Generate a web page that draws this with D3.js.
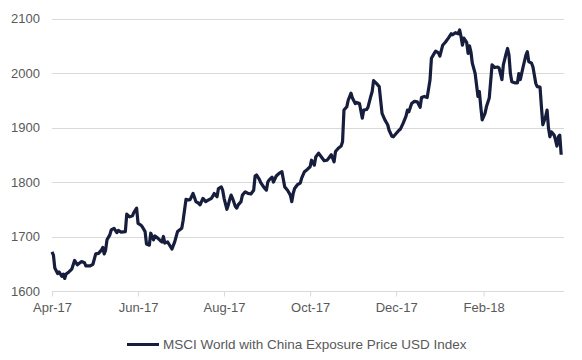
<!DOCTYPE html>
<html>
<head>
<meta charset="utf-8">
<script src="https://cdn.jsdelivr.net/npm/d3@7"></script>
<style>
  html, body { margin: 0; padding: 0; background: #fff; }
  svg { display: block; font-family: "Liberation Sans", Arial, sans-serif; }
</style>
</head>
<body>
<svg id="chart" width="582" height="360"></svg>
<script>
const seriesName = "MSCI World with China Exposure Price USD Index";
const yTicks = [1600, 1700, 1800, 1900, 2000, 2100];
const xTickLabels = ["Apr-17", "Jun-17", "Aug-17", "Oct-17", "Dec-17", "Feb-18"];
const xTickDates = ["2017-04-01", "2017-06-01", "2017-08-01", "2017-10-01", "2017-12-01", "2018-02-01"];
const xDomain = ["2017-04-01", "2018-03-30"];

const dates = [
"2017-04-01","2017-04-02","2017-04-03","2017-04-05","2017-04-06","2017-04-08","2017-04-09","2017-04-10","2017-04-11","2017-04-13",
"2017-04-15","2017-04-17","2017-04-19","2017-04-22","2017-04-24","2017-04-25","2017-04-28","2017-04-30","2017-05-02","2017-05-04",
"2017-05-06","2017-05-07","2017-05-08","2017-05-09","2017-05-10","2017-05-12","2017-05-13","2017-05-15","2017-05-17","2017-05-18",
"2017-05-20","2017-05-23","2017-05-24","2017-05-26","2017-05-28","2017-05-29","2017-05-31","2017-06-01","2017-06-03","2017-06-04",
"2017-06-06","2017-06-07","2017-06-09","2017-06-10","2017-06-12","2017-06-13","2017-06-15","2017-06-17","2017-06-18","2017-06-19",
"2017-06-20","2017-06-22","2017-06-25","2017-06-27","2017-06-29","2017-07-02","2017-07-03","2017-07-04","2017-07-05","2017-07-07",
"2017-07-08","2017-07-10","2017-07-11","2017-07-12","2017-07-14","2017-07-15","2017-07-17","2017-07-19","2017-07-21","2017-07-23",
"2017-07-24","2017-07-25","2017-07-27","2017-07-28","2017-07-30","2017-07-31","2017-08-01","2017-08-03","2017-08-04","2017-08-05",
"2017-08-06","2017-08-07","2017-08-09","2017-08-10","2017-08-11","2017-08-13","2017-08-14","2017-08-16","2017-08-18","2017-08-20",
"2017-08-22","2017-08-23","2017-08-24","2017-08-26","2017-08-27","2017-08-29","2017-08-31","2017-09-01","2017-09-02","2017-09-04",
"2017-09-05","2017-09-07","2017-09-09","2017-09-11","2017-09-12","2017-09-13","2017-09-15","2017-09-17","2017-09-18","2017-09-19",
"2017-09-20","2017-09-22","2017-09-24","2017-09-25","2017-09-27","2017-09-29","2017-10-01","2017-10-02","2017-10-04","2017-10-05",
"2017-10-07","2017-10-09","2017-10-11","2017-10-13","2017-10-14","2017-10-16","2017-10-18","2017-10-19","2017-10-21","2017-10-23",
"2017-10-24","2017-10-25","2017-10-27","2017-10-28","2017-10-30","2017-10-31","2017-11-02","2017-11-03","2017-11-05","2017-11-07",
"2017-11-08","2017-11-10","2017-11-11","2017-11-13","2017-11-14","2017-11-15","2017-11-17","2017-11-19","2017-11-20","2017-11-21",
"2017-11-23","2017-11-25","2017-11-26","2017-11-28","2017-11-29","2017-12-01","2017-12-03","2017-12-04","2017-12-06","2017-12-08",
"2017-12-09","2017-12-10","2017-12-12","2017-12-14","2017-12-16","2017-12-18","2017-12-19","2017-12-21","2017-12-23","2017-12-25",
"2017-12-26","2017-12-28","2017-12-29","2017-12-31","2018-01-01","2018-01-03","2018-01-05","2018-01-07","2018-01-09","2018-01-10",
"2018-01-12","2018-01-14","2018-01-15","2018-01-16","2018-01-17","2018-01-18","2018-01-20","2018-01-21","2018-01-22","2018-01-23",
"2018-01-24","2018-01-26","2018-01-27","2018-01-28","2018-01-29","2018-01-30","2018-01-31","2018-02-02","2018-02-03","2018-02-05",
"2018-02-07","2018-02-09","2018-02-11","2018-02-12","2018-02-14","2018-02-15","2018-02-17","2018-02-18","2018-02-19","2018-02-20",
"2018-02-21","2018-02-23","2018-02-25","2018-02-26","2018-02-27","2018-03-01","2018-03-03","2018-03-04","2018-03-05","2018-03-07",
"2018-03-08","2018-03-09","2018-03-10","2018-03-11","2018-03-13","2018-03-14","2018-03-15","2018-03-17","2018-03-18","2018-03-19",
"2018-03-20","2018-03-21","2018-03-23","2018-03-24","2018-03-25","2018-03-26","2018-03-27","2018-03-28"
];

const values = [
1672,1666,1642,1632,1635,1627,1631,1623,1631,1635,
1640,1656,1648,1654,1652,1646,1646,1649,1668,1669,
1675,1680,1668,1675,1694,1703,1712,1715,1707,1711,
1708,1709,1741,1736,1738,1744,1752,1724,1721,1718,
1709,1686,1684,1706,1694,1701,1697,1692,1690,1700,
1688,1690,1677,1690,1709,1715,1730,1749,1768,1767,
1768,1779,1772,1764,1761,1758,1770,1764,1767,1770,
1774,1779,1773,1788,1791,1785,1770,1750,1758,1768,
1776,1770,1755,1752,1758,1764,1776,1782,1779,1778,
1785,1811,1813,1805,1799,1791,1785,1800,1804,1809,
1800,1811,1816,1819,1805,1791,1785,1776,1764,1779,
1788,1795,1798,1807,1819,1823,1828,1840,1831,1846,
1853,1846,1839,1840,1843,1850,1837,1856,1862,1866,
1874,1932,1938,1950,1963,1954,1944,1946,1944,1917,
1932,1933,1937,1957,1966,1986,1981,1975,1950,1926,
1914,1905,1895,1884,1883,1889,1895,1897,1908,1921,
1932,1929,1944,1948,1947,1937,1955,1957,1955,1987,
2027,2036,2040,2037,2031,2051,2057,2064,2072,2070,
2074,2072,2079,2067,2051,2064,2056,2036,2050,2039,
2018,1999,1978,1957,1966,1938,1914,1926,1938,1954,
2015,2010,2011,2009,1988,2015,2036,2045,2033,1999,
1984,1982,1982,1999,1988,2011,2033,2039,2021,2018,
2011,1996,1981,1975,1974,1938,1905,1920,1932,1899,
1883,1892,1886,1877,1866,1883,1886,1850
];

const parse = d3.timeParse("%Y-%m-%d");
const data = dates.map((d, i) => ({ date: parse(d), value: values[i] }));

const svg = d3.select("#chart");
const margin = { left: 52, right: 18, top: 18.5, bottom: 69 };
const W = 582, H = 360;

const x = d3.scaleTime()
  .domain(xDomain.map(parse))
  .range([margin.left, W - margin.right]);
const y = d3.scaleLinear()
  .domain([1600, 2100])
  .range([H - margin.bottom, margin.top]);

const textColor = "#595959";
const gridColor = "#d9d9d9";

// Gridlines (excluding baseline)
svg.append("g")
  .selectAll("line")
  .data(yTicks.slice(1))
  .join("line")
  .attr("x1", margin.left).attr("x2", W - margin.right)
  .attr("y1", d => Math.round(y(d)) + 0.5).attr("y2", d => Math.round(y(d)) + 0.5)
  .attr("stroke", gridColor).attr("stroke-width", 1);

// Y axis labels
const yAxis = d3.axisLeft(y).tickValues(yTicks).tickSize(0).tickPadding(0).tickFormat(d3.format("d"));
const gy = svg.append("g").attr("transform", `translate(${margin.left - 12},0)`).call(yAxis);
gy.select(".domain").remove();
gy.selectAll("text")
  .attr("fill", textColor)
  .style("font-size", "13px")
  .style("font-family", "'Liberation Sans', Arial, sans-serif");

// X axis
const xAxis = d3.axisBottom(x)
  .tickValues(xTickDates.map(parse))
  .tickSize(5)
  .tickPadding(6)
  .tickFormat((d, i) => xTickLabels[i]);
const gx = svg.append("g")
  .attr("transform", `translate(0,${Math.round(y(1600)) + 0.5})`)
  .call(xAxis);
gx.select(".domain").attr("stroke", gridColor).attr("d", `M${margin.left},0H${W - margin.right}`);
gx.selectAll(".tick line").attr("stroke", gridColor);
gx.selectAll("text")
  .attr("fill", textColor)
  .style("font-size", "13px")
  .style("font-family", "'Liberation Sans', Arial, sans-serif");

// Line
const lineColor = "#171d3c";
const line = d3.line()
  .x(d => x(d.date))
  .y(d => y(d.value));
svg.append("path")
  .datum(data)
  .attr("fill", "none")
  .attr("stroke", lineColor)
  .attr("stroke-width", 3.2)
  .attr("stroke-linejoin", "round")
  .attr("stroke-linecap", "butt")
  .attr("d", line);

// Legend
const lg = svg.append("g");
lg.append("line")
  .attr("x1", 127).attr("x2", 159)
  .attr("y1", 344.5).attr("y2", 344.5)
  .attr("stroke", lineColor).attr("stroke-width", 3);
lg.append("text")
  .attr("x", 163).attr("y", 349)
  .attr("fill", textColor)
  .style("font-size", "13.5px")
  .text(seriesName);
</script>
</body>
</html>
